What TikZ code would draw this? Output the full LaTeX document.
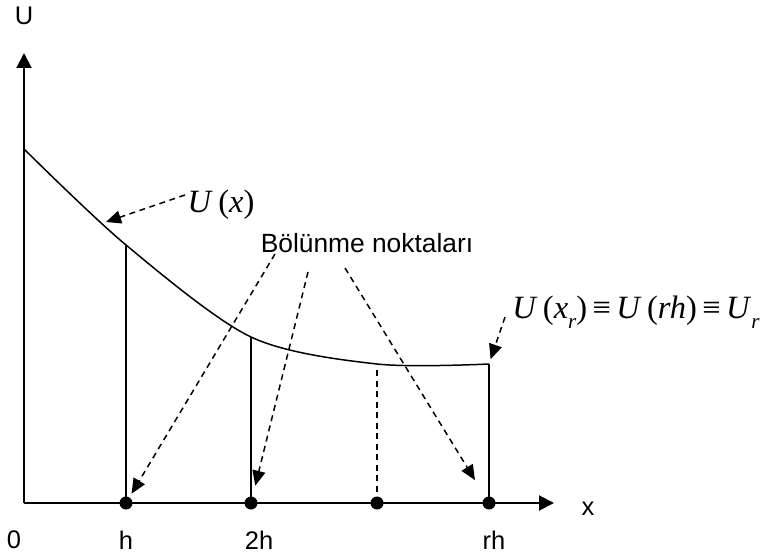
\documentclass[tikz,border=0pt]{standalone}
\usepackage{fontspec}
\setmainfont{Liberation Sans}
\newfontfamily\tmsfont{Liberation Serif}
\usetikzlibrary{arrows.meta}
\newcommand{\subR}{\raisebox{-0.7ex}{\fontsize{12pt}{12pt}\selectfont\textit{r}}}
\begin{document}
\begin{tikzpicture}[x=0.02cm,y=-0.02cm,
    axisLn/.style={line width=1.1pt,-{Triangle[length=0.3cm,width=0.3cm]}},
    gridLn/.style={line width=0.85pt},
    dashLn/.style={line width=0.85pt,dash pattern=on 3.4pt off 2.6pt},
    ptrArr/.style={dashLn,-{Triangle[length=0.3cm,width=0.26cm]}},
    divDot/.style={circle,fill=black,inner sep=0pt,minimum size=0.26cm},
    txtLbl/.style={font=\fontsize{14.5pt}{16pt}\selectfont},
    bolLbl/.style={font=\fontsize{15pt}{17pt}\selectfont},
    mathLbl/.style={font=\tmsfont\fontsize{18.5pt}{22pt}\selectfont},
]
\useasboundingbox (0,0) rectangle (763,557);
\coordinate (orig) at (24,503);
\coordinate (yTip) at (24,53);
\coordinate (xTip) at (554,503);
\coordinate (crvStart) at (24,149);
\coordinate (crvH) at (126,245);
\coordinate (crvTwoH) at (251,337);
\coordinate (crvMid) at (377,364);
\coordinate (crvRH) at (489,364);
\node[divDot] (dotH) at (126,503) {};
\node[divDot] (dotTwoH) at (251,503) {};
\node[divDot] (dotMid) at (377,503) {};
\node[divDot] (dotRH) at (489,503) {};
\node[txtLbl] (labU) at (24,16) {U};
\node[txtLbl] (labX) at (588,509) {x};
\node[txtLbl] (labZero) at (14,540) {0};
\node[txtLbl] (labH) at (126,540) {h};
\node[txtLbl] (labTwoH) at (259,540) {2h};
\node[txtLbl] (labRH) at (494,540) {rh};
\node[bolLbl] (labBol) at (367,243) {Bölünme noktaları};
\node[mathLbl] (labUx) at (221,205) {\textit{U}\,(\textit{x})};
\node[mathLbl] (labUr) at (636,312) {\textit{U}\,(\textit{x}\subR)\,≡\,\textit{U}\,(\textit{rh})\,≡\,\textit{U}\subR};
\coordinate (uxBeg) at (185,195);
\coordinate (uxTip) at (106,222);
\coordinate (bolA) at (275,254);
\coordinate (bolB) at (308,272);
\coordinate (bolC) at (345,268);
\coordinate (urBeg) at (505,317);
\draw[axisLn] (orig) -- (yTip);
\draw[axisLn] (orig) -- (xTip);
\draw[gridLn] plot[smooth,tension=0.5] coordinates {(crvStart) (crvH) (crvTwoH) (crvMid) (crvRH)};
\draw[gridLn] (crvH) -- (dotH.center);
\draw[gridLn] (crvTwoH) -- (dotTwoH.center);
\draw[gridLn] (crvRH) -- (dotRH.center);
\draw[dashLn] ([yshift=-0.12cm]crvMid) -- (dotMid);
\draw[ptrArr] (uxBeg) -- (uxTip);
\draw[ptrArr,shorten >=0.08cm] (bolA) -- (dotH);
\draw[ptrArr,shorten >=0.22cm] (bolB) -- (dotTwoH);
\draw[ptrArr,shorten >=0.4cm] (bolC) -- (dotRH);
\draw[ptrArr,shorten >=0.1cm] (urBeg) -- (crvRH);
\end{tikzpicture}
\end{document}
